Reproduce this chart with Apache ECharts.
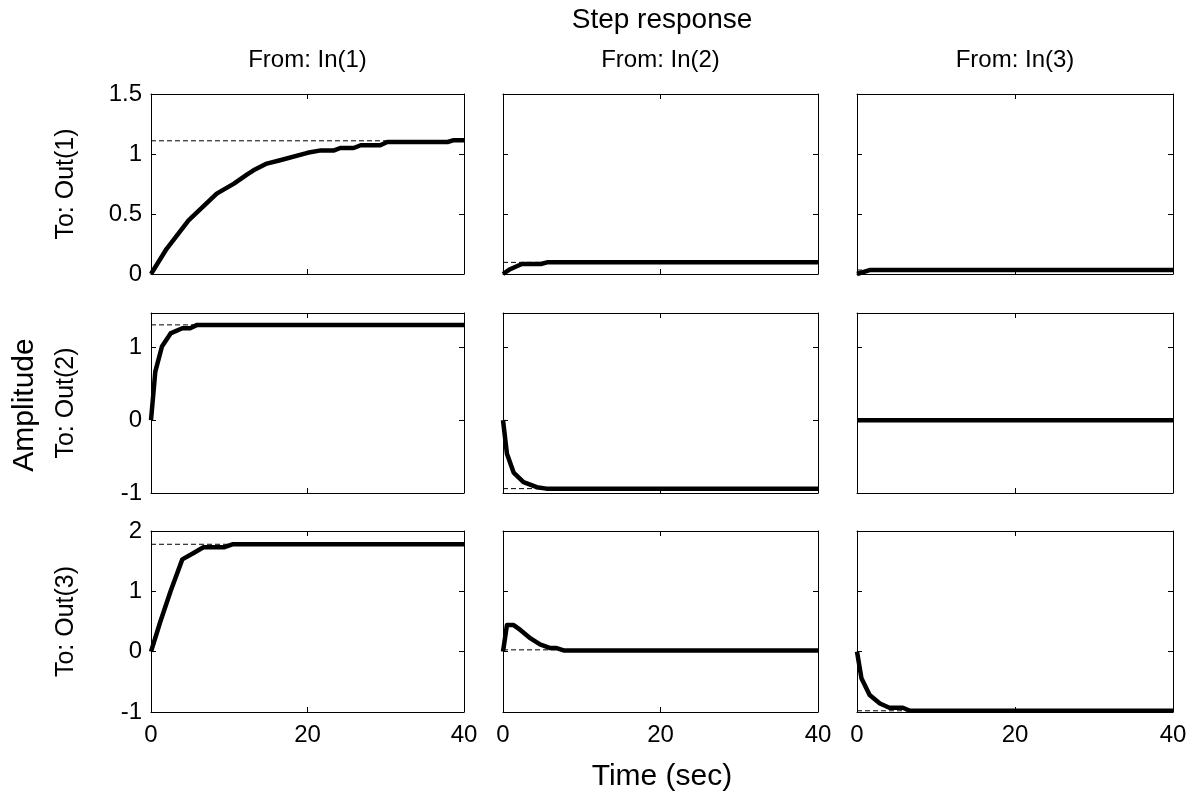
<!DOCTYPE html>
<html>
<head>
<meta charset="utf-8">
<script src="https://cdn.jsdelivr.net/npm/echarts@6/dist/echarts.min.js"></script>
<style>
html,body{margin:0;padding:0;background:#fff;}
#chart{width:1195px;height:798px;}
</style>
</head>
<body>
<div id="chart"></div>
<script>
// ---------- data ----------
const chartTitle = 'Step response';
const xAxisTitle = 'Time (sec)';
const yAxisTitle = 'Amplitude';
const colLabels = ['From: In(1)', 'From: In(2)', 'From: In(3)'];
const rowLabels = ['To: Out(1)', 'To: Out(2)', 'To: Out(3)'];
const timeTicks = [0, 20, 40];
const yTicksRow1 = [0, 0.5, 1, 1.5];
const yTicksRow2 = [-1, 0, 1];
const yTicksRow3 = [-1, 0, 1, 2];
const yRangeRow1 = [0, 1.5];
const yRangeRow2 = [-1, 1.47];
const yRangeRow3 = [-1, 2];

// steady-state (dashed) values, row = output, col = input
const steadyOut1 = [1.11, 0.097, 0.033];
const steadyOut2 = [1.307, -0.94, 0];
const steadyOut3 = [1.78, 0.03, -0.98];

// Out(1)
const t11 = [0, 2, 4.8, 8.4, 10.6, 12.3, 13.1, 14.8, 16.5, 20, 21.7, 23.4, 24.2, 25.9, 26.8, 29.3, 30.2, 37.9, 38.7, 40];
const y11 = [0, 0.21, 0.446, 0.67, 0.753, 0.83, 0.864, 0.92, 0.948, 1.01, 1.03, 1.03, 1.05, 1.05, 1.073, 1.073, 1.10, 1.10, 1.115, 1.115];
const t12 = [0, 0.9, 2.4, 4.8, 5.6, 40];
const y12 = [0, 0.04, 0.083, 0.083, 0.097, 0.097];
const t13 = [0, 1.6, 40];
const y13 = [0, 0.033, 0.033];
// Out(2)
const t21 = [0, 0.55, 1.4, 2.5, 4, 5, 5.9, 40];
const y21 = [0, 0.665, 1.01, 1.19, 1.26, 1.26, 1.307, 1.307];
const t22 = [0, 0.5, 1.35, 2.6, 4.3, 5.5, 40];
const y22 = [0, -0.46, -0.72, -0.85, -0.92, -0.94, -0.94];
const t23 = [0, 40];
const y23 = [0, 0];
// Out(3)
const t31 = [0, 1.2, 2.5, 4, 5.5, 6.7, 9.3, 10.4, 40];
const y31 = [0, 0.5, 1.0, 1.53, 1.64, 1.73, 1.73, 1.78, 1.78];
const t32 = [0, 0.5, 1.35, 2.2, 3.5, 4.7, 6, 6.8, 7.7, 40];
const y32 = [0, 0.44, 0.44, 0.36, 0.22, 0.12, 0.06, 0.06, 0.02, 0.02];
const t33 = [0, 0.56, 1.6, 2.9, 4.1, 5.8, 6.7, 40];
const y33 = [0, -0.44, -0.72, -0.86, -0.93, -0.93, -0.98, -0.98];

// ---------- layout ----------
const FONT = 'Liberation Sans, Arial, Helvetica, sans-serif';
const colLeft = [151, 503, 857];
const colWidth = [313, 315, 316];
const rowTop = [94, 313, 531];
const rowHeight = [180, 180, 181];

const curves = [
  [[t11, y11], [t12, y12], [t13, y13]],
  [[t21, y21], [t22, y22], [t23, y23]],
  [[t31, y31], [t32, y32], [t33, y33]]
];
const steady = [steadyOut1, steadyOut2, steadyOut3];
const yRanges = [yRangeRow1, yRangeRow2, yRangeRow3];
const yTicks = [yTicksRow1, yTicksRow2, yTicksRow3];
const xMin = timeTicks[0], xMax = timeTicks[timeTicks.length - 1];

const grids = [], xAxes = [], yAxes = [], series = [];
const axLine = {show: true, onZero: false, lineStyle: {color: '#000', width: 1}};
const axTick = {show: true, inside: true, length: 5, lineStyle: {color: '#000', width: 1}};

for (let r = 0; r < 3; r++) {
  for (let c = 0; c < 3; c++) {
    grids.push({left: colLeft[c], top: rowTop[r], width: colWidth[c], height: rowHeight[r], containLabel: false});
  }
}
// bottom/left axes (0..8), then top/right (9..17)
for (let pass = 0; pass < 2; pass++) {
  for (let r = 0; r < 3; r++) {
    for (let c = 0; c < 3; c++) {
      const k = r * 3 + c;
      const yt = yTicks[r];
      xAxes.push({
        gridIndex: k, type: 'value', min: xMin, max: xMax, interval: timeTicks[1] - timeTicks[0],
        position: pass === 0 ? 'bottom' : 'top',
        axisLine: axLine, axisTick: Object.assign({}, axTick, {customValues: timeTicks}), splitLine: {show: false},
        axisLabel: {show: pass === 0 && r === 2, fontSize: 24, color: '#000', fontFamily: FONT, margin: 11,
          customValues: timeTicks},
        axisPointer: {show: false}
      });
      yAxes.push({
        gridIndex: k, type: 'value', min: yRanges[r][0], max: yRanges[r][1], interval: yt[1] - yt[0],
        position: pass === 0 ? 'left' : 'right',
        axisLine: axLine, axisTick: Object.assign({}, axTick, {customValues: yt}), splitLine: {show: false},
        axisLabel: {show: pass === 0 && c === 0, fontSize: 24, color: '#000', fontFamily: FONT, margin: 9,
          customValues: yt}
      });
    }
  }
}
for (let r = 0; r < 3; r++) {
  for (let c = 0; c < 3; c++) {
    const k = r * 3 + c;
    const ss = steady[r][c];
    series.push({
      type: 'line', xAxisIndex: k, yAxisIndex: k, symbol: 'none', silent: true, z: 1,
      data: [[xMin, ss], [xMax, ss]],
      lineStyle: {color: '#000', width: 1, type: [5, 3]}
    });
    const [tt, yy] = curves[r][c];
    series.push({
      type: 'line', xAxisIndex: k, yAxisIndex: k, symbol: 'none', silent: true, z: 3, clip: false,
      data: tt.map((t, i) => [t, yy[i]]),
      lineStyle: {color: '#000', width: 4.5, join: 'round', cap: 'butt'}
    });
  }
}

const graphics = [];
const txt = (text, x, y, size, rot) => ({
  type: 'text', x: x, y: y, rotation: rot || 0, silent: true,
  style: {text: text, fill: '#000', font: size + 'px ' + FONT, textAlign: 'center', textVerticalAlign: 'middle'}
});
const plotMid = (colLeft[0] + colLeft[2] + colWidth[2]) / 2;
graphics.push(txt(chartTitle, plotMid, 20, 28));
for (let c = 0; c < 3; c++) graphics.push(txt(colLabels[c], colLeft[c] + colWidth[c] / 2, 60, 24));
for (let r = 0; r < 3; r++) graphics.push(txt(rowLabels[r], 66, rowTop[r] + rowHeight[r] / 2, 25, Math.PI / 2));
graphics.push(txt(yAxisTitle, 25, 405, 30, Math.PI / 2));
graphics.push(txt(xAxisTitle, plotMid, 777, 30));

const chart = echarts.init(document.getElementById('chart'), null, {renderer: 'canvas'});
chart.setOption({
  animation: false,
  backgroundColor: '#fff',
  grid: grids, xAxis: xAxes, yAxis: yAxes, series: series,
  graphic: graphics
});
</script>
</body>
</html>
